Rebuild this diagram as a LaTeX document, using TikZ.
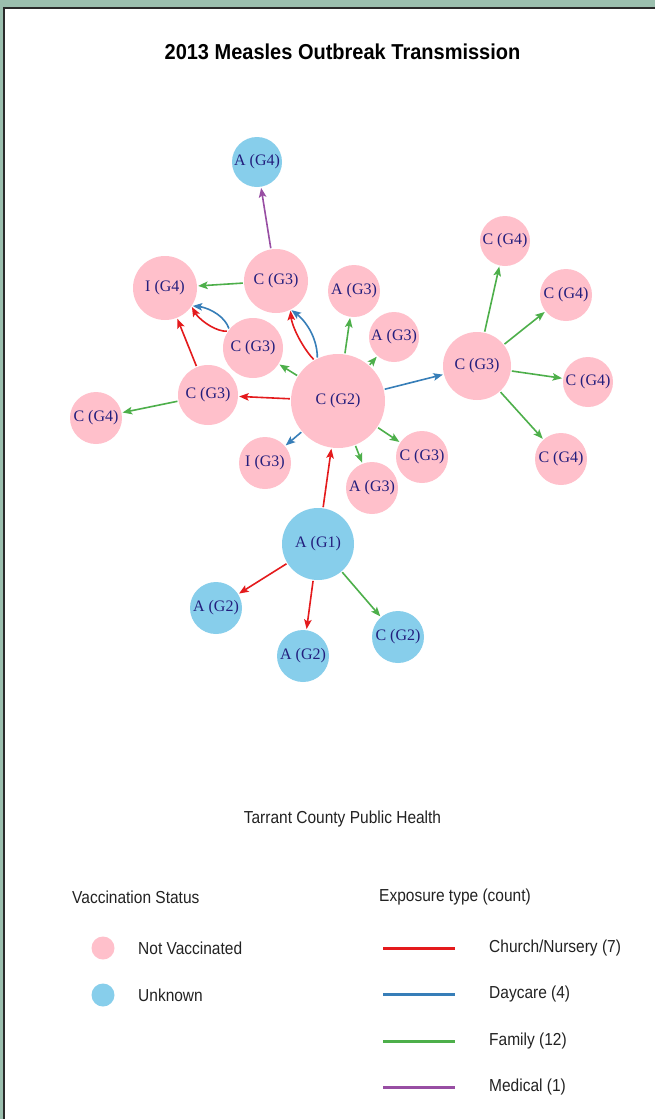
\documentclass[tikz,border=0pt]{standalone}
\usepackage{fontspec}
\setmainfont{Liberation Serif}
\setsansfont{Liberation Sans}
\usetikzlibrary{arrows.meta,bending}
\definecolor{pk}{HTML}{FFC0CB}
\definecolor{sky}{HTML}{87CEEB}
\definecolor{ered}{HTML}{E41A1C}
\definecolor{eblue}{HTML}{377EB8}
\definecolor{egreen}{HTML}{4DAF4A}
\definecolor{epurple}{HTML}{984EA3}
\definecolor{lbl}{RGB}{35,30,125}
\definecolor{framebg}{HTML}{9BBFAE}
\definecolor{frameline}{HTML}{2A2A2A}
\definecolor{legtext}{HTML}{222222}
\newcommand{\tallsans}[1]{\scalebox{1}[1.12]{#1}}
\begin{document}
\begin{tikzpicture}[x=1pt,y=-1pt,
  nd/.style={circle,inner sep=0pt,text=lbl,font=\fontsize{16}{18}\selectfont},
  nv/.style={nd,fill=pk},
  uk/.style={nd,fill=sky},
  ed/.style={line width=1.6pt,-{Stealth[length=9.5pt,width=7.5pt,inset=2pt]},shorten >=1pt,shorten <=1pt},
  chu/.style={ed,draw=ered},
  day/.style={ed,draw=eblue},
  fam/.style={ed,draw=egreen},
  med/.style={ed,draw=epurple},
  legtxt/.style={inner sep=0pt,anchor=west,text=legtext,font=\sffamily\fontsize{15.5}{18}\selectfont},
  legline/.style={line width=3pt},
  legdot/.style={circle,inner sep=0pt,minimum size=23pt}]
\useasboundingbox (0,0) rectangle (655,1119);
\fill[framebg] (0,0) rectangle (655,1119);
\fill[white] (5,9) rectangle (655,1119);
\draw[frameline,line width=2.2pt] (4,1119) -- (4,7.8) -- (655,7.8);
% title
\node[inner sep=0pt,font=\sffamily\bfseries\fontsize{20}{24}\selectfont] (title) at (342.5,52) {\scalebox{1}[1.08]{2013 Measles Outbreak Transmission}};
% nodes
\node[uk,minimum size=50pt] (ag4) at (257,162) {A (G4)};
\node[nv,minimum size=64pt] (c3t) at (276,281) {C (G3)};
\node[nv,minimum size=64pt] (ig4) at (165,288) {I (G4)};
\node[nv,minimum size=52pt] (a3u) at (354,291) {A (G3)};
\node[nv,minimum size=60pt] (c3m) at (253,348) {C (G3)};
\node[nv,minimum size=60pt] (c3l) at (208,395) {C (G3)};
\node[nv,minimum size=52pt] (c4l) at (96,418) {C (G4)};
\node[nv,minimum size=52pt] (ig3) at (265,463) {I (G3)};
\node[nv,minimum size=94pt] (c2) at (338,401) {C (G2)};
\node[nv,minimum size=50pt] (a3r) at (394,337) {A (G3)};
\node[nv,minimum size=52pt] (c3r) at (422,457) {C (G3)};
\node[nv,minimum size=52pt] (a3l) at (372,488) {A (G3)};
\node[nv,minimum size=68pt] (c3b) at (477,366) {C (G3)};
\node[nv,minimum size=50pt] (c4a) at (505,241) {C (G4)};
\node[nv,minimum size=52pt] (c4b) at (566,295) {C (G4)};
\node[nv,minimum size=50pt] (c4c) at (588,382) {C (G4)};
\node[nv,minimum size=52pt] (c4d) at (561,459) {C (G4)};
\node[uk,minimum size=72pt] (ag1) at (318,544) {A (G1)};
\node[uk,minimum size=52pt] (ag2l) at (216,608) {A (G2)};
\node[uk,minimum size=52pt] (ag2b) at (303,656) {A (G2)};
\node[uk,minimum size=52pt] (cg2) at (398,637) {C (G2)};
% edges
\draw[med] (c3t) -- (ag4);
\draw[fam] (c3t) -- (ig4);
\draw[chu] (c3m.146) .. controls +(-13,1) and +(2,11) .. (ig4.326);
\draw[day] (c3m.142) .. controls +(-5,-15) and +(13,-1) .. (ig4.326);
\draw[chu] (c3l) -- (ig4);
\draw[chu] (c2.120) .. controls +(-10,-10) and +(-2,14) .. (c3t.297);
\draw[day] (c2.116) .. controls +(0,-22) and +(14,8) .. (c3t.297);
\draw[fam] (c2) -- (a3u);
\draw[fam] (c2) -- (a3r);
\draw[fam] (c2) -- (c3m);
\draw[chu] (c2) -- (c3l);
\draw[day] (c2) -- (ig3);
\draw[day] (c2) -- (c3b);
\draw[fam] (c2) -- (c3r);
\draw[fam] (c2) -- (a3l);
\draw[fam] (c3l) -- (c4l);
\draw[fam] (c3b) -- (c4a);
\draw[fam] (c3b) -- (c4b);
\draw[fam] (c3b) -- (c4c);
\draw[fam] (c3b) -- (c4d);
\draw[chu] (ag1) -- (c2);
\draw[chu] (ag1) -- (ag2l);
\draw[chu] (ag1) -- (ag2b);
\draw[fam] (ag1) -- (cg2);
% footer
\node[inner sep=0pt,text=legtext,font=\sffamily\fontsize{15.5}{18}\selectfont] (credit) at (342.5,819) {\tallsans{Tarrant County Public Health}};
% legend left
\node[legtxt] (vtitle) at (72,897) {\tallsans{Vaccination Status}};
\node[legdot,fill=pk] (dnv) at (103,948) {};
\node[legtxt] (tnv) at (138,948) {\tallsans{Not Vaccinated}};
\node[legdot,fill=sky] (duk) at (103,995) {};
\node[legtxt] (tuk) at (138,995) {\tallsans{Unknown}};
% legend right
\node[legtxt] (etitle) at (379,897) {\tallsans{Exposure type (count)}};
\coordinate (r1) at (383,948); \coordinate (r2) at (455,948);
\coordinate (b1) at (383,994); \coordinate (b2) at (455,994);
\coordinate (g1) at (383,1041); \coordinate (g2) at (455,1041);
\coordinate (p1) at (383,1087); \coordinate (p2) at (455,1087);
\draw[legline,ered] (r1) -- (r2);
\draw[legline,eblue] (b1) -- (b2);
\draw[legline,egreen] (g1) -- (g2);
\draw[legline,epurple] (p1) -- (p2);
\node[legtxt] (tr) at (489,948) {\tallsans{Church/Nursery (7)}};
\node[legtxt] (tb) at (489,994) {\tallsans{Daycare (4)}};
\node[legtxt] (tg) at (489,1041) {\tallsans{Family (12)}};
\node[legtxt] (tp) at (489,1087) {\tallsans{Medical (1)}};
\end{tikzpicture}
\end{document}
